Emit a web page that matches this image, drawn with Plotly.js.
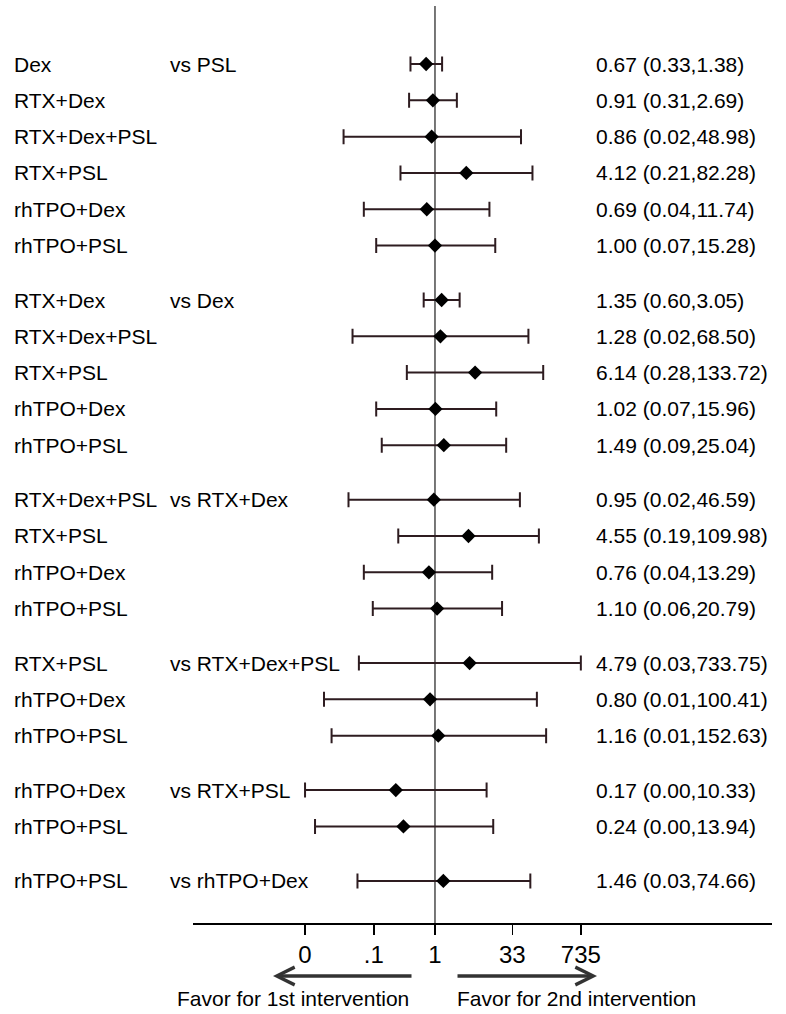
<!DOCTYPE html>
<html>
<head>
<meta charset="utf-8">
<script src="https://cdn.plot.ly/plotly-3.0.1.min.js"></script>
<style>html,body{margin:0;padding:0;background:#fff;}#chart{width:786px;height:1014px;}</style>
</head>
<body>
<div id="chart"></div>
<script>
// ---- data ----
var treat = ["Dex","RTX+Dex","RTX+Dex+PSL","RTX+PSL","rhTPO+Dex","rhTPO+PSL",
             "RTX+Dex","RTX+Dex+PSL","RTX+PSL","rhTPO+Dex","rhTPO+PSL",
             "RTX+Dex+PSL","RTX+PSL","rhTPO+Dex","rhTPO+PSL",
             "RTX+PSL","rhTPO+Dex","rhTPO+PSL",
             "rhTPO+Dex","rhTPO+PSL",
             "rhTPO+PSL"];
var comparator = ["PSL","PSL","PSL","PSL","PSL","PSL",
                  "Dex","Dex","Dex","Dex","Dex",
                  "RTX+Dex","RTX+Dex","RTX+Dex","RTX+Dex",
                  "RTX+Dex+PSL","RTX+Dex+PSL","RTX+Dex+PSL",
                  "RTX+PSL","RTX+PSL",
                  "rhTPO+Dex"];
var est = [0.67,0.91,0.86,4.12,0.69,1.00,
           1.35,1.28,6.14,1.02,1.49,
           0.95,4.55,0.76,1.10,
           4.79,0.80,1.16,
           0.17,0.24,
           1.46];
var lower = [0.33,0.31,0.016,0.21,0.04,0.07,
             0.60,0.024,0.28,0.07,0.09,
             0.02,0.19,0.04,0.06,
             0.032,0.0066,0.0093,
             0.0028,0.0044,
             0.03];
var upper = [1.38,2.69,48.98,82.28,11.74,15.28,
             3.05,68.50,133.72,15.96,25.04,
             46.59,109.98,13.29,20.79,
             733.75,100.41,152.63,
             10.33,13.94,
             74.66];
var ciLabels = ["0.67 (0.33,1.38)","0.91 (0.31,2.69)","0.86 (0.02,48.98)","4.12 (0.21,82.28)","0.69 (0.04,11.74)","1.00 (0.07,15.28)",
                "1.35 (0.60,3.05)","1.28 (0.02,68.50)","6.14 (0.28,133.72)","1.02 (0.07,15.96)","1.49 (0.09,25.04)",
                "0.95 (0.02,46.59)","4.55 (0.19,109.98)","0.76 (0.04,13.29)","1.10 (0.06,20.79)",
                "4.79 (0.03,733.75)","0.80 (0.01,100.41)","1.16 (0.01,152.63)",
                "0.17 (0.00,10.33)","0.24 (0.00,13.94)",
                "1.46 (0.03,74.66)"];
var tickVals = [0.0028, 0.063, 1, 33, 735];
var tickText = ["0", ".1", "1", "33", "735"];
var favorLeft = "Favor for 1st intervention";
var favorRight = "Favor for 2nd intervention";

// ---- layout helpers ----
var W = 786, H = 1014;
var mL = 193, mR = 14, mT = 6, mB = 91;
var plotW = W - mL - mR, plotH = H - mT - mB;
function px2paperX(px){ return (px - mL) / plotW; }
function px2paperY(py){ return (H - mB - py) / plotH; }

// row positions: consecutive rows, with half-row gap between comparator groups
var ypos = [], g = 0;
for (var i = 0; i < treat.length; i++) {
  if (i > 0 && comparator[i] !== comparator[i-1]) g++;
  ypos.push(i + 0.5 * g);
}
var yTop = -1.598, yBot = 23.66;

var font = "Liberation Sans, Arial, Helvetica, sans-serif";
var ciColor = "#2e1c20";

var traces = [
  {
    x: [1, 1], y: [yBot, yTop], mode: "lines", type: "scatter",
    line: {color: "#4a4a4a", width: 1.5}, hoverinfo: "skip", showlegend: false, cliponaxis: false
  },
  {
    x: est, y: ypos, mode: "markers", type: "scatter",
    marker: {symbol: "diamond", size: 11, color: "#000"},
    error_x: {
      type: "data", symmetric: false,
      array: est.map(function(v, k){ return upper[k] - v; }),
      arrayminus: est.map(function(v, k){ return v - lower[k]; }),
      color: ciColor, thickness: 2, width: 7.5
    },
    showlegend: false, cliponaxis: false
  }
];

var ann = [];
for (var j = 0; j < treat.length; j++) {
  ann.push({xref: "paper", yref: "y", x: px2paperX(12), y: ypos[j], text: treat[j],
            showarrow: false, xanchor: "left", yanchor: "middle", font: {family: font, size: 21, color: "#000"}});
  if (j === 0 || comparator[j] !== comparator[j-1]) {
    ann.push({xref: "paper", yref: "y", x: px2paperX(168), y: ypos[j], text: "vs " + comparator[j],
              showarrow: false, xanchor: "left", yanchor: "middle", font: {family: font, size: 21, color: "#000"}});
  }
  ann.push({xref: "paper", yref: "y", x: px2paperX(594), y: ypos[j], text: ciLabels[j],
            showarrow: false, xanchor: "left", yanchor: "middle", font: {family: font, size: 21, color: "#000"}});
}
// arrows
ann.push({xref: "paper", yref: "paper", x: px2paperX(273), y: px2paperY(976), ax: 140, ay: 0,
          axref: "pixel", ayref: "pixel", text: "", showarrow: true, arrowhead: 5, arrowsize: 1,
          arrowwidth: 3.5, arrowcolor: "#333", standoff: 0});
ann.push({xref: "paper", yref: "paper", x: px2paperX(597), y: px2paperY(976), ax: -141, ay: 0,
          axref: "pixel", ayref: "pixel", text: "", showarrow: true, arrowhead: 5, arrowsize: 1,
          arrowwidth: 3.5, arrowcolor: "#333", standoff: 0});
ann.push({xref: "paper", yref: "paper", x: px2paperX(411), y: px2paperY(998), text: favorLeft,
          showarrow: false, xanchor: "right", yanchor: "middle", font: {family: font, size: 21, color: "#000"}});
ann.push({xref: "paper", yref: "paper", x: px2paperX(455), y: px2paperY(998), text: favorRight,
          showarrow: false, xanchor: "left", yanchor: "middle", font: {family: font, size: 21, color: "#000"}});

var layout = {
  width: W, height: H,
  margin: {l: mL, r: mR, t: mT, b: mB, pad: 0},
  paper_bgcolor: "#fff", plot_bgcolor: "#fff",
  showlegend: false,
  xaxis: {
    type: "log", range: [-4.754, 6.621], showgrid: false, zeroline: false,
    showline: true, linecolor: "#000", linewidth: 1.5,
    ticks: "outside", ticklen: 10, tickwidth: 1.5, tickcolor: "#000",
    tickvals: tickVals, ticktext: tickText,
    tickfont: {family: font, size: 24, color: "#000"}, fixedrange: true
  },
  yaxis: {range: [yBot, yTop], visible: false, showgrid: false, zeroline: false, fixedrange: true},
  annotations: ann
};

Plotly.newPlot("chart", traces, layout, {displayModeBar: false, staticPlot: true});
</script>
</body>
</html>
